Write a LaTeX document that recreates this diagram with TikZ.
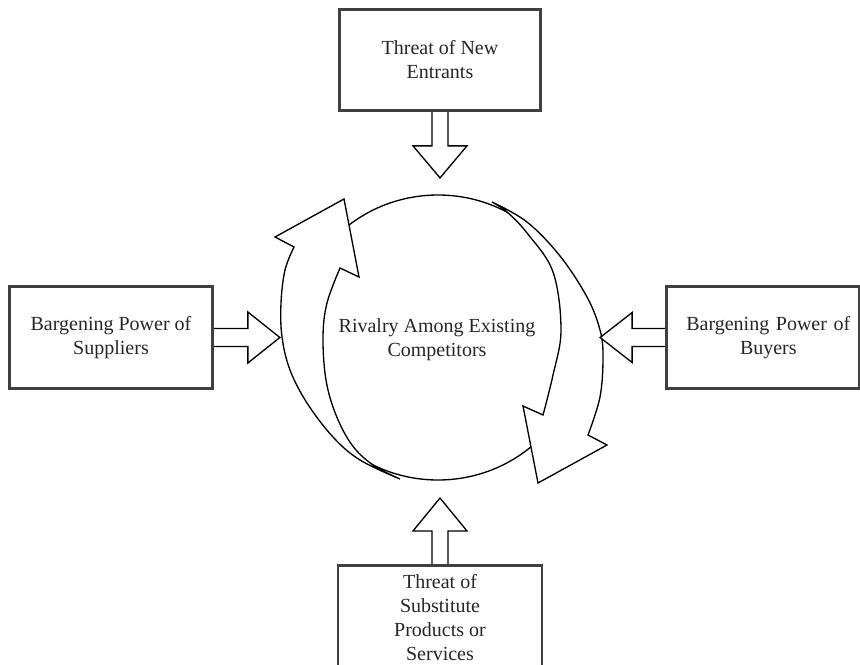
\documentclass[tikz,border=0pt]{standalone}
\usepackage{fontspec}
\setmainfont{Liberation Serif}
\begin{document}
\begin{tikzpicture}[x=0.75pt,y=-0.75pt,
  boxframe/.style={draw=black!75, line width=1.3pt, fill=white, inner sep=0pt, align=center,
    text=black!85, font=\fontsize{15}{18}\selectfont},
  txt/.style={inner sep=0pt, align=center, text=black!85, font=\fontsize{15}{18}\selectfont},
  blockarrow/.style={draw=black, line width=1pt, fill=white, line join=miter},
  curvearrow/.style={draw=black, line width=1pt, fill=white, line join=miter},
  ring/.style={draw=black, line width=1pt}]
\useasboundingbox (0,0) rectangle (860,664);
\clip (0,0) rectangle (860,664);

% central ring
\draw[ring] (438,337.5) ellipse [x radius=145, y radius=142.5];

% left curved arrow (upwards)
\draw[curvearrow]
  plot[smooth, tension=0.6] coordinates {(400,479) (360,460) (333,437) (307,403) (290,370) (282,337) (281,303) (285,270) (294,247)}
  -- (275,237) -- (344,199) -- (359,277) -- (340,268)
  -- plot[smooth, tension=0.6] coordinates {(340,268) (327,303) (323,337) (326,380) (336,415) (352,445) (373,465) (400,479)}
  -- cycle;

% right curved arrow (downwards)
\draw[curvearrow]
  plot[smooth, tension=0.6] coordinates {(492,202) (527,222) (560,256) (587,297) (600,330) (603,357) (600,397) (588,435)}
  -- (607,445) -- (538,483) -- (523,406) -- (543,415)
  -- plot[smooth, tension=0.6] coordinates {(543,415) (553,375) (561,330) (553,272) (527,233) (507,212) (492,202)}
  -- cycle;

\node[txt] (rivalry) at (437,340) {Rivalry Among Existing\\Competitors};

% boxes
\node[boxframe, minimum width=150pt, minimum height=75pt] (top) at (440,60) {Threat of New\\Entrants};
\node[boxframe, minimum width=151.5pt, minimum height=75.75pt] (left) at (111,337.5) {Bargening Power of\\Suppliers};
\node[boxframe, minimum width=144pt, minimum height=75.75pt, text width=144pt] (right) at (763,337.5) {\hspace*{8pt}Bargening Power of\\\hspace*{8pt}Buyers};
\node[boxframe, minimum width=152.25pt, minimum height=101.25pt, anchor=north] (sub) at (440,565) {};
\node[txt] (subtext) at (440,617.5) {Threat of\\Substitute\\Products or\\Services};

% block arrows
\draw[blockarrow] (top.south) ++(-8,0) -- ++(0,35) -- ++(-19,0) -- ++(27,32) -- ++(27,-32) -- ++(-19,0) -- ++(0,-35) -- cycle;
\draw[blockarrow] (sub.north) ++(-8,0) -- ++(0,-34) -- ++(-19,0) -- ++(27,-33) -- ++(27,33) -- ++(-19,0) -- ++(0,34) -- cycle;
\draw[blockarrow] (left.east) ++(0,-9) -- ++(35,0) -- ++(0,-16.5) -- ++(32,25.5) -- ++(-32,25.5) -- ++(0,-16.5) -- ++(-35,0) -- cycle;
\draw[blockarrow] (right.west) ++(0,-9) -- ++(-34,0) -- ++(0,-16) -- ++(-32,25) -- ++(32,25) -- ++(0,-16) -- ++(34,0) -- cycle;

% redraw box frames over arrow ends
\draw[draw=black!75, line width=1.3pt] (top.south west) rectangle (top.north east);
\draw[draw=black!75, line width=1.3pt] (left.south west) rectangle (left.north east);
\draw[draw=black!75, line width=1.3pt] (right.south west) rectangle (right.north east);
\draw[draw=black!75, line width=1.3pt] (sub.south west) rectangle (sub.north east);
\end{tikzpicture}
\end{document}
